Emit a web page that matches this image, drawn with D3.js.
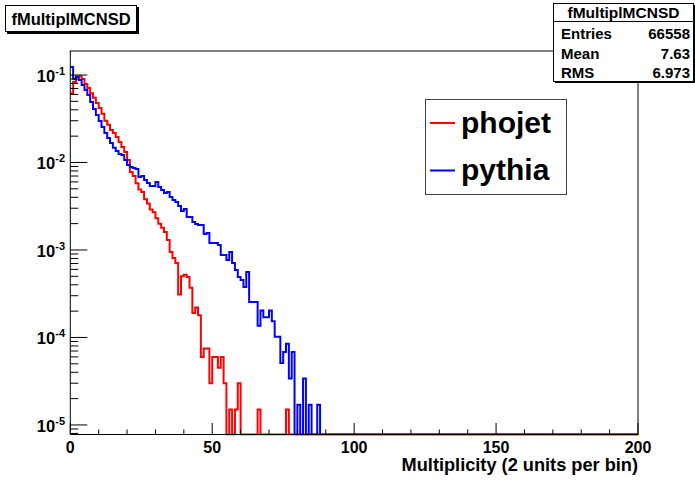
<!DOCTYPE html>
<html>
<head>
<meta charset="utf-8">
<script src="https://cdn.jsdelivr.net/npm/d3@7"></script>
<style>
  body { margin: 0; background: #fff; }
  text { font-family: "Liberation Sans", Arial, sans-serif; font-weight: bold; fill: #000; }
</style>
</head>
<body>
<div id="chart"></div>
<script>
// histogram contents, one bin per multiplicity unit (bins after the last value are empty)
const phojet = [0.062, 0.083, 0.097, 0.097, 0.090, 0.079, 0.071, 0.062, 0.055, 0.048,
    0.042, 0.036, 0.030, 0.027, 0.0235, 0.0217, 0.0196, 0.0171, 0.0150, 0.0132,
    0.0107, 0.0078, 0.0070, 0.0058, 0.0049, 0.0046, 0.0038, 0.0034, 0.0029, 0.0027,
    0.0023, 0.0020, 0.0018, 0.0016, 0.0013, 0.00095, 0.00081, 0.00071, 0.00031, 0.00050,
    0.00052, 0.00049, 0.00037, 0.00019, 0.00022, 0.00018, 6.0e-5, 7.5e-5, 7.5e-5, 3.0e-5,
    6.0e-5, 6.0e-5, 4.5e-5, 6.0e-5, 3.0e-5, 0, 1.5e-5, 0, 1.5e-5, 3.0e-5,
    0, 0, 0, 0, 0, 0, 1.5e-5, 0, 0, 0,
    0, 0, 0, 0, 0, 0, 1.5e-5];

const pythia = [0.123, 0.0907, 0.0949, 0.0877, 0.0769, 0.0674, 0.0591, 0.0491, 0.0408, 0.0349,
    0.0298, 0.0255, 0.0217, 0.0190, 0.0167, 0.0147, 0.0135, 0.0125, 0.0122, 0.0107,
    0.00936, 0.00889, 0.00865, 0.00843, 0.00683, 0.00701, 0.00631, 0.00583, 0.00539, 0.00539,
    0.00598, 0.00525, 0.00485, 0.00448, 0.00460, 0.00404, 0.00373, 0.00354, 0.00318, 0.00279,
    0.00294, 0.00238, 0.00238, 0.00209, 0.00198, 0.00193, 0.00193, 0.00152, 0.00156, 0.00120,
    0.00120, 0.00120, 0.00114, 0.000877, 0.000877, 0.000769, 0.000948, 0.000710, 0.000590, 0.000491,
    0.000454, 0.000378, 0.000561, 2.55e-4, 2.55e-4, 2.55e-4, 1.36e-4, 2.04e-4, 1.7e-4, 1.7e-4,
    2.04e-4, 1.53e-4, 1.02e-4, 1.02e-4, 5.1e-5, 6.8e-5, 8.5e-5, 3.4e-5, 6.8e-5, 0,
    1.7e-5, 0, 3.4e-5, 0, 1.7e-5, 0, 0, 1.7e-5];

const seriesNames = ["phojet", "pythia"];
const seriesColors = ["#ff0000", "#0000ff"];
const xTickLabels = [0, 50, 100, 150, 200];
const yDecades = [-5, -4, -3, -2, -1];
const statsLabels = ["Entries", "Mean", "RMS"];
const statsValues = ["66558", "7.63", "6.973"];
const histName = "fMultiplMCNSD";
const xTitle = "Multiplicity (2 units per bin)";

const W = 695, H = 481;
const frame = {left: 70.3, right: 638, top: 51, bottom: 434.5};
const nBins = 200;

const svg = d3.select("#chart").append("svg")
    .attr("width", W)
    .attr("height", H);

const x = d3.scaleLinear().domain([0, 200]).range([frame.left, frame.right]);
const y = d3.scaleLog().domain([7.78e-6, 0.188]).range([frame.bottom, frame.top]);

svg.append("clipPath").attr("id", "clip")
    .append("rect")
    .attr("x", frame.left - 1).attr("y", frame.top)
    .attr("width", frame.right - frame.left + 2).attr("height", frame.bottom - frame.top + 1);

// step outline like ROOT's HIST drawing, empty bins sit on the frame bottom
function stepPath(vals) {
    let full = d3.range(nBins).map(i => vals[i] || 0);
    let yy = v => v > 0 ? y(v) : frame.bottom;
    let p = d3.path();
    p.moveTo(x(0), yy(full[0]));
    full.forEach((v, i) => {
        p.lineTo(x(i + 1), yy(v));
        if (i + 1 < nBins) p.lineTo(x(i + 1), yy(full[i + 1]));
    });
    return p.toString();
}

const plot = svg.append("g").attr("clip-path", "url(#clip)");
[phojet, pythia].forEach((vals, k) => {
    plot.append("path")
        .attr("d", stepPath(vals))
        .attr("fill", "none")
        .attr("stroke", seriesColors[k])
        .attr("stroke-width", 2);
});

// frame
svg.append("rect")
    .attr("x", frame.left).attr("y", frame.top)
    .attr("width", frame.right - frame.left).attr("height", frame.bottom - frame.top)
    .attr("fill", "none").attr("stroke", "#000").attr("stroke-width", 1);

// x axis ticks
const xt = svg.append("g");
d3.range(0, 201, 10).forEach(v => {
    let len = v % 50 === 0 ? 11.5 : 5;
    xt.append("line")
        .attr("x1", x(v)).attr("x2", x(v))
        .attr("y1", frame.bottom).attr("y2", frame.bottom - len)
        .attr("stroke", "#000");
});
xt.selectAll("text.xl").data(xTickLabels).enter().append("text")
    .attr("x", d => x(d)).attr("y", 453)
    .attr("text-anchor", "middle")
    .style("font-size", "16px")
    .text(d => d);

svg.append("text")
    .attr("x", frame.right).attr("y", 471)
    .attr("text-anchor", "end")
    .style("font-size", "18.2px")
    .text(xTitle);

// y axis log ticks
const yt = svg.append("g");
const [lo, hi] = y.domain();
for (let d = -6; d <= 0; d++) {
    for (let m = 1; m <= 9; m++) {
        let v = m * Math.pow(10, d);
        if (v < lo || v > hi) continue;
        let len = m === 1 ? 17 : 8;
        yt.append("line")
            .attr("x1", frame.left).attr("x2", frame.left + len)
            .attr("y1", y(v)).attr("y2", y(v))
            .attr("stroke", "#000");
    }
}
yDecades.forEach(d => {
    let t = yt.append("text")
        .attr("x", 65).attr("y", y(Math.pow(10, d)) + 7)
        .attr("text-anchor", "end")
        .style("font-size", "16.5px");
    t.append("tspan").text("10");
    t.append("tspan").attr("dy", -7).style("font-size", "11px").text(d);
});

// title box
svg.append("rect").attr("x", 7).attr("y", 7).attr("width", 132).attr("height", 27).attr("fill", "#000");
svg.append("rect").attr("x", 5.5).attr("y", 5.5).attr("width", 131).attr("height", 26)
    .attr("fill", "#fff").attr("stroke", "#000");
svg.append("text").attr("x", 71).attr("y", 24.5)
    .attr("text-anchor", "middle").style("font-size", "16.5px").text(histName);

// stats box
const sb = {x: 553.5, y: 3.5, w: 140, h: 78};
svg.append("rect").attr("x", sb.x + 1.5).attr("y", sb.y + 1.5).attr("width", sb.w).attr("height", sb.h).attr("fill", "#000");
svg.append("rect").attr("x", sb.x).attr("y", sb.y).attr("width", sb.w).attr("height", sb.h)
    .attr("fill", "#fff").attr("stroke", "#000");
svg.append("line").attr("x1", sb.x).attr("x2", sb.x + sb.w).attr("y1", 21.5).attr("y2", 21.5).attr("stroke", "#000");
svg.append("text").attr("x", sb.x + sb.w / 2).attr("y", 18)
    .attr("text-anchor", "middle").style("font-size", "15.5px").text(histName);
statsLabels.forEach((s, i) => {
    svg.append("text").attr("x", 561).attr("y", 39 + i * 19.5)
        .style("font-size", "15px").text(s);
    svg.append("text").attr("x", 690).attr("y", 39 + i * 19.5)
        .attr("text-anchor", "end").style("font-size", "15px").text(statsValues[i]);
});

// legend
const lg = svg.append("g");
lg.append("rect").attr("x", 425.5).attr("y", 99.5).attr("width", 141).attr("height", 95)
    .attr("fill", "#fff").attr("stroke", "#444");
seriesNames.forEach((n, i) => {
    let cy = 123 + i * 47.5;
    lg.append("line").attr("x1", 430).attr("x2", 455).attr("y1", cy).attr("y2", cy)
        .attr("stroke", seriesColors[i]).attr("stroke-width", 2);
    lg.append("text").attr("x", 461).attr("y", cy + 9.5)
        .style("font-size", "30px").text(n);
});
</script>
</body>
</html>
